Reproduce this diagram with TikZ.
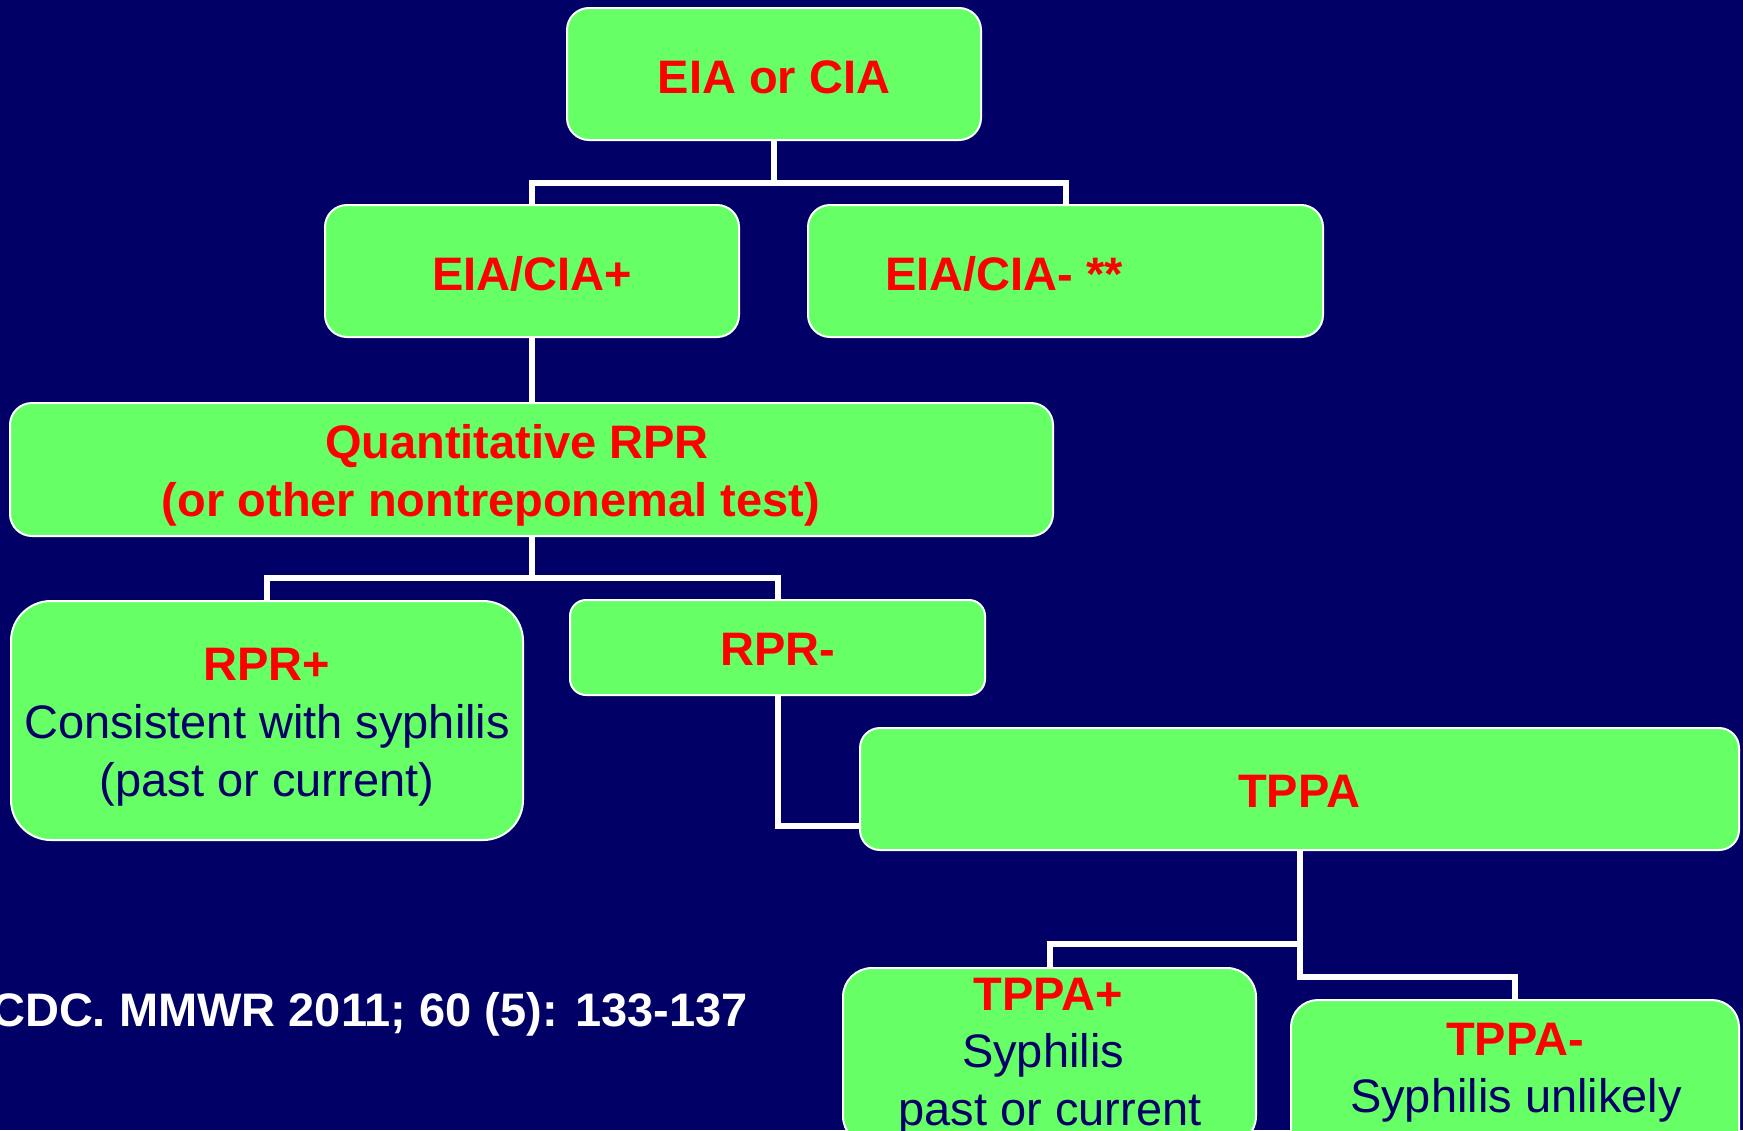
\documentclass[tikz,border=0pt]{standalone}
\usepackage{fontspec}
\setmainfont{Liberation Sans}
\definecolor{bgnavy}{HTML}{000066}
\definecolor{boxgreen}{HTML}{66FF66}
\definecolor{txtred}{HTML}{FF0000}
\definecolor{txtnavy}{HTML}{000066}
\begin{document}
\begin{tikzpicture}[x=1pt,y=-1pt,
  box/.style={draw=white, line width=2pt, fill=boxgreen, inner sep=0pt, rounded corners=#1},
  box/.default=22pt,
  conn/.style={draw=white, line width=6pt},
  redt/.style={text=txtred, font=\fontsize{47}{56}\selectfont\bfseries, inner sep=0pt, anchor=base},
  bluet/.style={text=txtnavy, font=\fontsize{47}{56}\selectfont, inner sep=0pt, anchor=base},
  citet/.style={text=white, font=\fontsize{47}{56}\selectfont\bfseries, inner sep=0pt, anchor=base east}]
\useasboundingbox (0,0) rectangle (1743,1130);
\fill[bgnavy] (0,0) rectangle (1743,1130);
\clip (0,0) rectangle (1743,1130);

% boxes
\node[box, minimum width=414pt, minimum height=132pt] (top) at (774,74) {};
\node[box, minimum width=414pt, minimum height=132pt] (eplus) at (532,271) {};
\node[box, minimum width=515pt, minimum height=132pt] (eminus) at (1065.5,271) {};
\node[box, minimum width=1043pt, minimum height=133pt] (qrpr) at (531.5,469.5) {};
\node[box=40pt, minimum width=512pt, minimum height=239pt] (rprp) at (267,720.5) {};
\node[box=16pt, minimum width=415pt, minimum height=95pt] (rprm) at (777.5,647.5) {};
\node[box=20pt, minimum width=879pt, minimum height=122pt] (tppa) at (1299.5,789) {};
\node[box=29pt, minimum width=413pt, minimum height=177pt] (tppap) at (1049.5,1056.5) {};
\node[box=27pt, minimum width=448pt, minimum height=160pt] (tppam) at (1515,1080) {};

% connectors
\draw[conn] (top.south) -- ++(0,42) -| (eplus.north);
\draw[conn] (top.south) -- ++(0,42) -| (eminus.north);
\draw[conn] (eplus.south) -- (eplus.south |- qrpr.north);
\draw[conn] (qrpr.south) -- ++(0,41) -| (rprp.north);
\draw[conn] (qrpr.south) -- ++(0,41) -| (rprm.north);
\draw[conn] (rprm.south) |- ([yshift=-37pt]tppa.west);
\draw[conn] (tppa.south) -- ++(0,93) -| (tppap.north);
\draw[conn] (tppa.south) -- ++(0,126) -| (tppam.north);

% texts
\node[redt] (t1) at (774,93) {EIA or CIA};
\node[redt] (t2) at (532,290) {EIA/CIA+};
\node[redt, anchor=base west] (t3) at (885,290) {EIA/CIA- **};
\node[redt] (t4) at (517,458) {Quantitative RPR};
\node[redt] (t5) at (491,516) {(or other nontreponemal test)};
\node[redt] (t6) at (267,680) {RPR+};
\node[bluet] (t7) at (267,738) {Consistent with syphilis};
\node[bluet] (t8) at (267,796) {(past or current)};
\node[redt] (t9) at (778,665) {RPR-};
\node[redt] (t10) at (1299,807) {TPPA};
\node[redt] (t11) at (1048,1010) {TPPA+};
\node[bluet] (t12) at (1043,1067) {Syphilis};
\node[bluet] (t13) at (1050,1125) {past or current};
\node[redt] (t14) at (1515,1055) {TPPA-};
\node[bluet] (t15) at (1516,1112) {Syphilis unlikely};
\node[citet] (cite) at (748,1026) {CDC. MMWR 2011; 60 (5): 133-137};
\end{tikzpicture}
\end{document}
